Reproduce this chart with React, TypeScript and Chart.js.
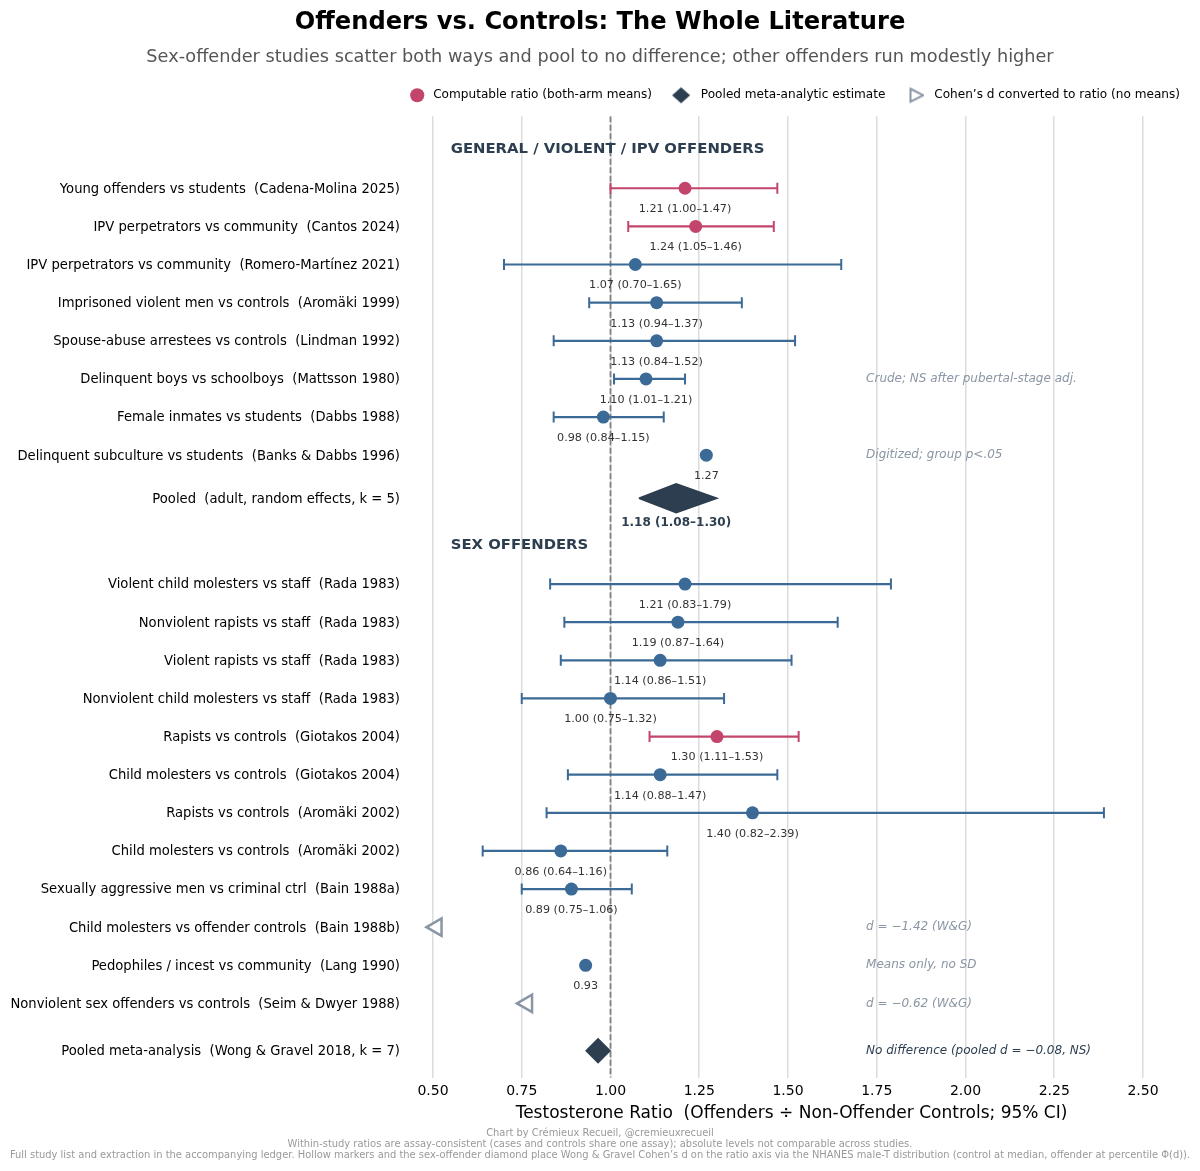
import { useEffect, useRef } from "react";
import { Chart, registerables } from "chart.js";

Chart.register(...registerables);

const FONT = "'DejaVu Sans', sans-serif";
const RED = "#c4456b";
const BLUE = "#3b6a96";
const DARK = "#2c3e50";
const GREY = "#8a96a3";

// rows, top to bottom, y is in row units
const rowLabels = [
  "Young offenders vs students  (Cadena-Molina 2025)",
  "IPV perpetrators vs community  (Cantos 2024)",
  "IPV perpetrators vs community  (Romero-Martínez 2021)",
  "Imprisoned violent men vs controls  (Aromäki 1999)",
  "Spouse-abuse arrestees vs controls  (Lindman 1992)",
  "Delinquent boys vs schoolboys  (Mattsson 1980)",
  "Female inmates vs students  (Dabbs 1988)",
  "Delinquent subculture vs students  (Banks & Dabbs 1996)",
  "Pooled  (adult, random effects, k = 5)",
  "Violent child molesters vs staff  (Rada 1983)",
  "Nonviolent rapists vs staff  (Rada 1983)",
  "Violent rapists vs staff  (Rada 1983)",
  "Nonviolent child molesters vs staff  (Rada 1983)",
  "Rapists vs controls  (Giotakos 2004)",
  "Child molesters vs controls  (Giotakos 2004)",
  "Rapists vs controls  (Aromäki 2002)",
  "Child molesters vs controls  (Aromäki 2002)",
  "Sexually aggressive men vs criminal ctrl  (Bain 1988a)",
  "Child molesters vs offender controls  (Bain 1988b)",
  "Pedophiles / incest vs community  (Lang 1990)",
  "Nonviolent sex offenders vs controls  (Seim & Dwyer 1988)",
  "Pooled meta-analysis  (Wong & Gravel 2018, k = 7)",
];
const rowY = [0, 1, 2, 3, 4, 5, 6, 7, 8.13, 10.38, 11.38, 12.38, 13.38, 14.38, 15.38, 16.38, 17.38, 18.38, 19.38, 20.38, 21.38, 22.62];

const means = [1.21, 1.24, 1.07, 1.13, 1.13, 1.1, 0.98, 1.27, null, 1.21, 1.19, 1.14, 1.0, 1.3, 1.14, 1.4, 0.86, 0.89, null, 0.93, null, null];
const lows = [1.0, 1.05, 0.7, 0.94, 0.84, 1.01, 0.84, null, null, 0.83, 0.87, 0.86, 0.75, 1.11, 0.88, 0.82, 0.64, 0.75, null, null, null, null];
const highs = [1.47, 1.46, 1.65, 1.37, 1.52, 1.21, 1.15, null, null, 1.79, 1.64, 1.51, 1.32, 1.53, 1.47, 2.39, 1.16, 1.06, null, null, null, null];
const redRows = [0, 1, 13];

const convertedD = [
  { row: 18, x: 0.51 },
  { row: 20, x: 0.765 },
];
const sexPooled = { row: 21, x: 0.965 };
const adultPooled = { row: 8, lo: 1.08, mid: 1.185, hi: 1.3, label: "1.18 (1.08–1.30)" };

const sections = [
  { y: -1.02, text: "GENERAL / VIOLENT / IPV OFFENDERS" },
  { y: 9.37, text: "SEX OFFENDERS" },
];
const notes = [
  { row: 5, text: "Crude; NS after pubertal-stage adj.", color: GREY },
  { row: 7, text: "Digitized; group p<.05", color: GREY },
  { row: 18, text: "d = −1.42 (W&G)", color: GREY },
  { row: 19, text: "Means only, no SD", color: GREY },
  { row: 20, text: "d = −0.62 (W&G)", color: GREY },
  { row: 21, text: "No difference (pooled d = −0.08, NS)", color: DARK },
];
const footerLines = [
  "Chart by Crémieux Recueil, @cremieuxrecueil",
  "Within-study ratios are assay-consistent (cases and controls share one assay); absolute levels not comparable across studies.",
  "Full study list and extraction in the accompanying ledger. Hollow markers and the sex-offender diamond place Wong & Gravel Cohen’s d on the ratio axis via the NHANES male-T distribution (control at median, offender at percentile Φ(d)).",
];
const xTicks = [0.5, 0.75, 1, 1.25, 1.5, 1.75, 2, 2.25, 2.5];

const Y_MIN = -1.887;
const Y_MAX = 23.33;

// legend glyphs, the built-in ones come out too small next to the circle
function legendMarker(points: number[][], fill: string, stroke: string, lineWidth: number) {
  const canvas = document.createElement("canvas");
  canvas.width = 20;
  canvas.height = 20;
  const ctx = canvas.getContext("2d")!;
  ctx.beginPath();
  points.forEach(([px, py], i) => (i === 0 ? ctx.moveTo(px, py) : ctx.lineTo(px, py)));
  ctx.closePath();
  ctx.fillStyle = fill;
  ctx.fill();
  if (lineWidth > 0) {
    ctx.strokeStyle = stroke;
    ctx.lineWidth = lineWidth;
    ctx.stroke();
  }
  return canvas;
}

const textPlugin = {
  id: "forestText",
  afterDatasetsDraw(chart: any) {
    const { ctx, scales } = chart;
    const { x, y } = scales;
    ctx.save();

    ctx.textBaseline = "middle";
    ctx.textAlign = "center";
    ctx.fillStyle = "#333333";
    ctx.font = `11.2px ${FONT}`;
    means.forEach((m, i) => {
      if (m === null) return;
      const text = lows[i] === null ? m.toFixed(2) : `${m.toFixed(2)} (${lows[i]!.toFixed(2)}–${highs[i]!.toFixed(2)})`;
      ctx.fillText(text, x.getPixelForValue(m), y.getPixelForValue(rowY[i]) + 21);
    });

    ctx.font = `bold 12px ${FONT}`;
    ctx.fillStyle = DARK;
    ctx.fillText(adultPooled.label, x.getPixelForValue(adultPooled.mid), y.getPixelForValue(rowY[adultPooled.row]) + 24.5);

    ctx.textAlign = "left";
    ctx.font = `bold 14.85px ${FONT}`;
    sections.forEach((s) => ctx.fillText(s.text, x.getPixelForValue(0.55), y.getPixelForValue(s.y)));

    ctx.font = `italic 12px ${FONT}`;
    notes.forEach((n) => {
      ctx.fillStyle = n.color;
      ctx.fillText(n.text, x.getPixelForValue(1.72), y.getPixelForValue(rowY[n.row]));
    });

    ctx.textAlign = "center";
    ctx.fillStyle = "#999999";
    ctx.font = `9.92px ${FONT}`;
    footerLines.forEach((line, i) => ctx.fillText(line, 600, 1133 + i * 11));
    ctx.restore();
  },
};

export default function App() {
  const canvasRef = useRef<HTMLCanvasElement | null>(null);

  useEffect(() => {
    if (!canvasRef.current) return;

    const ciDatasets = rowLabels
      .map((_, i) => i)
      .filter((i) => lows[i] !== null)
      .map((i) => {
        const color = redRows.includes(i) ? RED : BLUE;
        return {
          data: [
            { x: lows[i], y: rowY[i] },
            { x: highs[i], y: rowY[i] },
          ],
          showLine: true,
          borderColor: color,
          borderWidth: 2.2,
          pointStyle: "line",
          pointRotation: 90,
          pointRadius: 5.5,
          pointBorderColor: color,
          pointBorderWidth: 2,
          order: 2,
        };
      });

    const pointRows = rowLabels.map((_, i) => i).filter((i) => means[i] !== null);

    const chart = new Chart(canvasRef.current, {
      type: "scatter",
      data: {
        datasets: [
          {
            data: pointRows.map((i) => ({ x: means[i], y: rowY[i] })),
            pointStyle: "circle",
            pointRadius: 6.5,
            pointBackgroundColor: pointRows.map((i) => (redRows.includes(i) ? RED : BLUE)),
            pointBorderWidth: 0,
            order: 0,
          },
          {
            data: convertedD.map((d) => ({ x: d.x, y: rowY[d.row] })),
            pointStyle: "triangle",
            pointRotation: -90,
            pointRadius: 10,
            pointBackgroundColor: "#ffffff",
            pointBorderColor: GREY,
            pointBorderWidth: 2.5,
            order: 0,
          },
          {
            data: [{ x: sexPooled.x, y: rowY[sexPooled.row] }],
            pointStyle: "rectRot",
            pointRadius: 13,
            pointBackgroundColor: DARK,
            pointBorderWidth: 0,
            order: 0,
          },
          {
            // adult pooled diamond, spans its CI
            data: [
              { x: adultPooled.lo, y: rowY[adultPooled.row] },
              { x: adultPooled.mid, y: rowY[adultPooled.row] - 0.38 },
              { x: adultPooled.hi, y: rowY[adultPooled.row] },
              { x: adultPooled.mid, y: rowY[adultPooled.row] + 0.38 },
              { x: adultPooled.lo, y: rowY[adultPooled.row] },
            ],
            showLine: true,
            fill: "shape",
            backgroundColor: DARK,
            borderColor: DARK,
            borderWidth: 1.5,
            pointRadius: 0,
            order: 1,
          },
          ...ciDatasets,
          {
            // reference line at ratio 1
            data: [
              { x: 1, y: Y_MIN },
              { x: 1, y: Y_MAX },
            ],
            showLine: true,
            borderColor: "#808080",
            borderWidth: 1.8,
            borderDash: [6, 2.5],
            pointRadius: 0,
            order: 5,
          },
        ] as any,
      },
      options: {
        responsive: false,
        animation: false,
        events: [],
        font: { family: FONT },
        layout: { autoPadding: false, padding: { top: 8, right: -3, bottom: 47, left: -3 } },
        plugins: {
          tooltip: { enabled: false },
          title: {
            display: true,
            text: "Offenders vs. Controls: The Whole Literature",
            color: "#000000",
            font: { family: FONT, size: 24.15, weight: "bold" },
            padding: { top: 0, bottom: 10 },
          },
          subtitle: {
            display: true,
            text: "Sex-offender studies scatter both ways and pool to no difference; other offenders run modestly higher",
            color: "#555555",
            font: { family: FONT, size: 17.7, weight: "normal" },
            padding: { top: 0, bottom: -2 },
          },
          legend: {
            position: "top",
            align: "end",
            labels: {
              usePointStyle: true,
              boxHeight: 10,
              padding: 23,
              color: "#000000",
              font: { family: FONT, size: 12.1 },
              // leading spaces keep the marker-to-text gap of the original legend
              generateLabels: () => [
                { text: " Computable ratio (both-arm means)", fillStyle: RED, strokeStyle: RED, lineWidth: 0, pointStyle: "circle" },
                {
                  text: "  Pooled meta-analytic estimate",
                  pointStyle: legendMarker([[1, 10], [10, 2], [19, 10], [10, 18]], DARK, DARK, 0),
                },
                {
                  text: "  Cohen’s d converted to ratio (no means)",
                  pointStyle: legendMarker([[6, 3.5], [19, 10], [6, 16.5]], "#ffffff", GREY, 2),
                },
              ] as any,
            },
          },
        },
        scales: {
          x: {
            type: "linear",
            min: 0.3592,
            max: 2.6606,
            afterBuildTicks: (scale: any) => {
              scale.ticks = xTicks.map((value) => ({ value }));
            },
            afterFit: (scale: any) => {
              // the first and last ticks sit well inside the plot, no margin needed
              scale.paddingLeft = -3;
              scale.paddingRight = -3;
            },
            title: {
              display: true,
              text: "Testosterone Ratio  (Offenders ÷ Non-Offender Controls; 95% CI)",
              color: "#000000",
              font: { family: FONT, size: 17 },
              padding: { top: -1, bottom: 0 },
            },
            border: { display: false },
            grid: { color: "#dcdcdc", lineWidth: 1.5, drawTicks: false },
            ticks: {
              color: "#000000",
              font: { family: FONT, size: 14 },
              padding: 5,
              maxRotation: 0,
              autoSkip: false,
              callback: (value: any) => Number(value).toFixed(2),
            },
          },
          // empty axis, only adds the gap between legend and plot
          xSpacer: {
            type: "linear",
            position: "top",
            border: { display: false },
            grid: { display: false, drawTicks: false },
            ticks: { display: false },
            afterFit: (scale: any) => {
              scale.height = 5;
              scale.paddingLeft = -3;
              scale.paddingRight = -3;
            },
          },
          y: {
            type: "linear",
            reverse: true,
            min: Y_MIN,
            max: Y_MAX,
            afterBuildTicks: (scale: any) => {
              scale.ticks = rowY.map((value) => ({ value }));
            },
            afterFit: (scale: any) => {
              scale.width = 386;
              // plot area ends at y 1078
              scale.paddingBottom = 93;
              // labels overlap the plot's left edge, do not clip them to the axis box
              scale._computeLabelArea = () => undefined;
            },
            border: { display: false },
            grid: { display: false, drawTicks: false },
            ticks: {
              color: "#000000",
              font: { family: FONT, size: 13.17 },
              padding: -17,
              labelOffset: 1,
              autoSkip: false,
              callback: (_value: any, index: number) => rowLabels[index],
            },
          },
        },
      } as any,
      plugins: [textPlugin],
    });

    return () => chart.destroy();
  }, []);

  return (
    <div style={{ position: "absolute", left: 0, top: 0, width: 1200, height: 1171, background: "#ffffff" }}>
      <canvas ref={canvasRef} width={1200} height={1171} style={{ display: "block" }} />
    </div>
  );
}
